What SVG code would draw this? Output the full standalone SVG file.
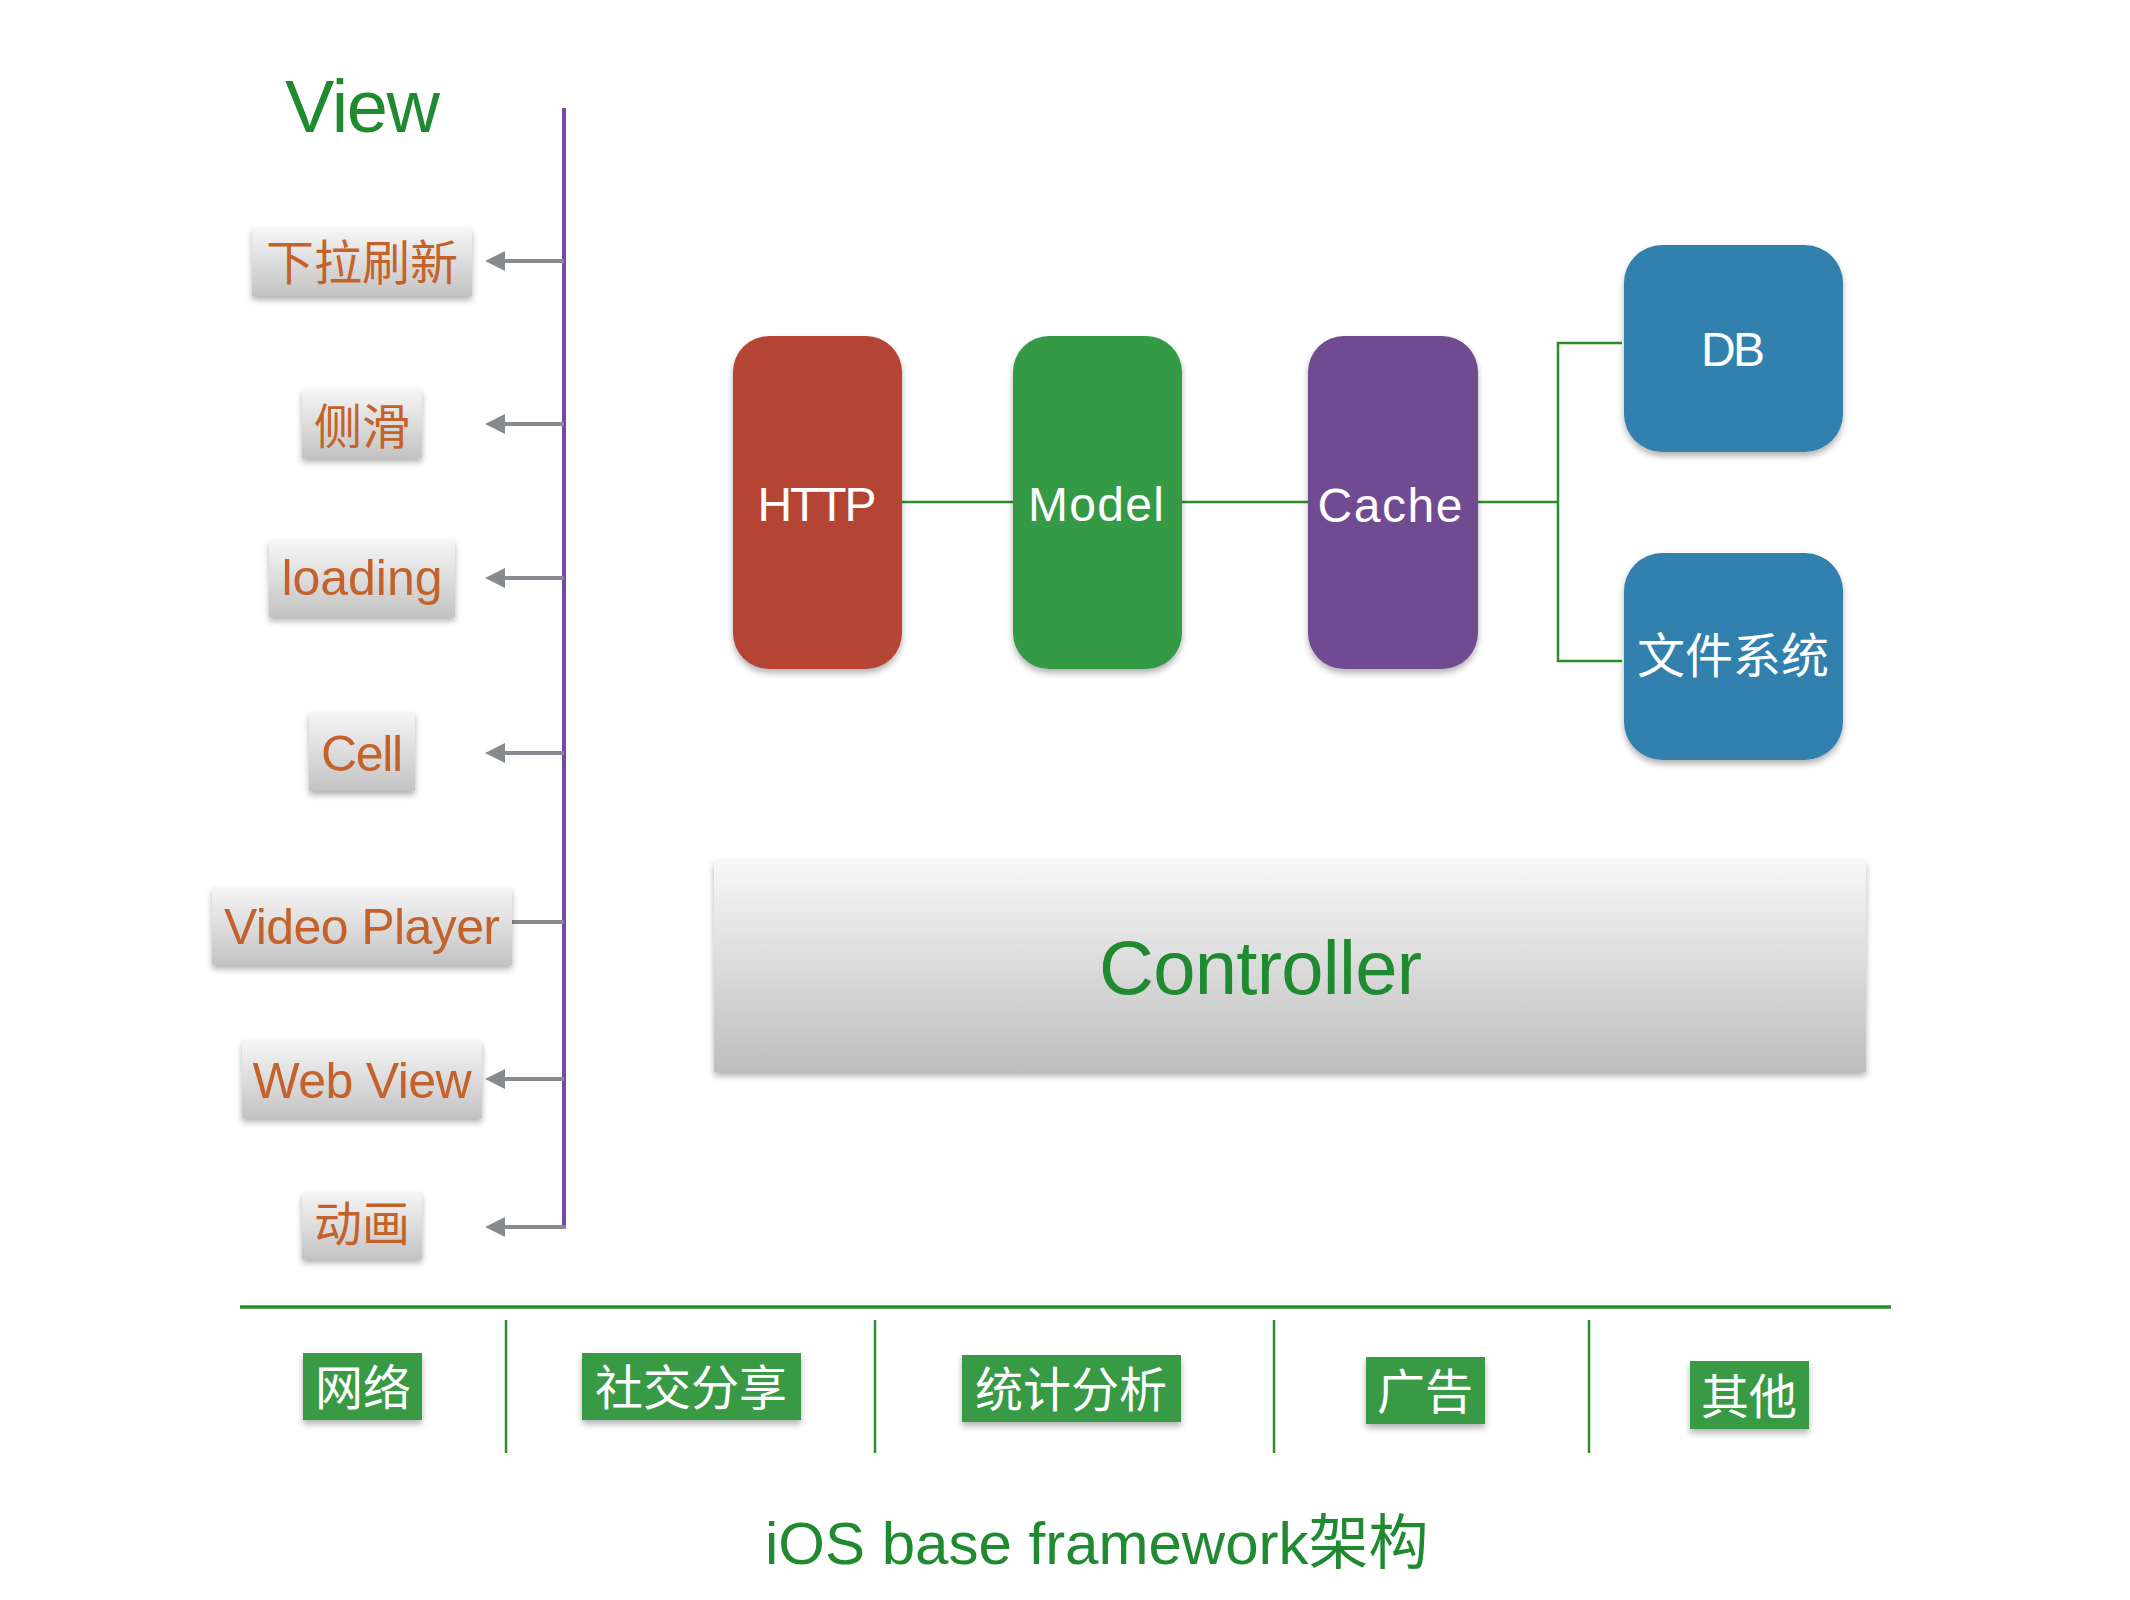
<svg xmlns="http://www.w3.org/2000/svg" width="2130" height="1600" viewBox="0 0 2130 1600">
<style>
.lbl{font-family:"Liberation Sans","Noto Sans CJK SC",sans-serif;}
.item{fill:#c4622b;font-size:50px;text-anchor:middle;}
.itemcjk{fill:#c4622b;font-size:48px;text-anchor:middle;}
.white{fill:#ffffff;font-size:48px;text-anchor:middle;}
.green{fill:#1f8a2f;}
.tagtxt{fill:#ffffff;font-size:48px;text-anchor:middle;}
.ibox{fill:url(#gItem);filter:url(#sh);}
.tag{fill:#379a45;filter:url(#sh);}
.arrow{stroke:#878b90;stroke-width:4;fill:none;}
.gl{stroke:#2a8f2a;stroke-width:2.5;fill:none;}
</style>
<defs>
<linearGradient id="gItem" x1="0" y1="0" x2="0" y2="1">
<stop offset="0" stop-color="#f6f6f6"/>
<stop offset="1" stop-color="#c3c3c3"/>
</linearGradient>
<linearGradient id="gCtrl" x1="0" y1="0" x2="0" y2="1">
<stop offset="0" stop-color="#f8f8f8"/>
<stop offset="1" stop-color="#bebebe"/>
</linearGradient>
<filter id="sh" x="-10%" y="-10%" width="120%" height="130%">
<feDropShadow dx="0" dy="4" stdDeviation="3" flood-color="#000" flood-opacity="0.3"/>
</filter>
<marker id="ah" viewBox="0 0 20 20" refX="5" refY="10" markerWidth="20" markerHeight="20" markerUnits="userSpaceOnUse" orient="auto">
<path d="M0,0 L20,10 L0,20 Z" fill="#878b90"/>
</marker>
</defs>
<rect width="2130" height="1600" fill="#ffffff"/>

<text class="lbl green" x="285" y="132" font-size="74" textLength="155">View</text>

<g id="connectors">
<line x1="564" y1="108" x2="564" y2="1229" stroke="#7a48a0" stroke-width="4"/>
<line class="arrow" x1="564" y1="261" x2="500" y2="261" marker-end="url(#ah)"/>
<line class="arrow" x1="564" y1="424" x2="500" y2="424" marker-end="url(#ah)"/>
<line class="arrow" x1="564" y1="578" x2="500" y2="578" marker-end="url(#ah)"/>
<line class="arrow" x1="564" y1="753" x2="500" y2="753" marker-end="url(#ah)"/>
<line class="arrow" x1="564" y1="922" x2="512" y2="922"/>
<line class="arrow" x1="564" y1="1079" x2="500" y2="1079" marker-end="url(#ah)"/>
<line class="arrow" x1="566" y1="1227" x2="500" y2="1227" marker-end="url(#ah)"/>
<line class="gl" x1="902" y1="502" x2="1013" y2="502"/>
<line class="gl" x1="1182" y1="502" x2="1308" y2="502"/>
<line class="gl" x1="1478" y1="502" x2="1558" y2="502"/>
<polyline class="gl" points="1622,343 1558,343 1558,661 1622,661"/>
<line x1="240" y1="1307" x2="1891" y2="1307" stroke="#2a8f2a" stroke-width="3.5"/>
<line class="gl" x1="506" y1="1320" x2="506" y2="1453"/>
<line class="gl" x1="875" y1="1320" x2="875" y2="1453"/>
<line class="gl" x1="1274" y1="1320" x2="1274" y2="1453"/>
<line class="gl" x1="1589" y1="1320" x2="1589" y2="1453"/>
</g>

<g id="pull-refresh">
<rect class="ibox" x="252" y="228" width="220" height="68"/>
<text class="lbl itemcjk" x="362" y="280">下拉刷新</text>
</g>
<g id="side-slide">
<rect class="ibox" x="302" y="389" width="120" height="69"/>
<text class="lbl itemcjk" x="362" y="444">侧滑</text>
</g>
<g id="loading">
<rect class="ibox" x="269" y="540" width="186" height="77"/>
<text class="lbl item" x="362" y="595" font-size="48" textLength="161">loading</text>
</g>
<g id="cell">
<rect class="ibox" x="309" y="712" width="106" height="79"/>
<text class="lbl item" x="362" y="771" font-size="52" textLength="82">Cell</text>
</g>
<g id="video-player">
<rect class="ibox" x="212" y="887" width="300" height="78"/>
<text class="lbl item" x="362" y="944" textLength="276">Video Player</text>
</g>
<g id="web-view">
<rect class="ibox" x="242" y="1040" width="240" height="78"/>
<text class="lbl item" x="362" y="1098" textLength="219">Web View</text>
</g>
<g id="animation">
<rect class="ibox" x="302" y="1192" width="120" height="67"/>
<text class="lbl itemcjk" x="362" y="1241">动画</text>
</g>

<g id="http">
<rect x="733" y="336" width="169" height="333" rx="36" fill="#b44534" filter="url(#sh)"/>
<text class="lbl white" x="817" y="521" textLength="119">HTTP</text>
</g>
<g id="model">
<rect x="1013" y="336" width="169" height="333" rx="36" fill="#349a45" filter="url(#sh)"/>
<text class="lbl white" x="1096" y="521" textLength="136">Model</text>
</g>
<g id="cache">
<rect x="1308" y="336" width="170" height="333" rx="36" fill="#6f4b92" filter="url(#sh)"/>
<text class="lbl white" x="1390" y="522" textLength="145">Cache</text>
</g>
<g id="db">
<rect x="1624" y="245" width="219" height="207" rx="38" fill="#3380ae" filter="url(#sh)"/>
<text class="lbl white" x="1733" y="366" font-size="50" textLength="64">DB</text>
</g>
<g id="filesystem">
<rect x="1624" y="553" width="219" height="207" rx="38" fill="#3380ae" filter="url(#sh)"/>
<text class="lbl white" x="1733" y="673" font-size="49">文件系统</text>
</g>

<g id="controller">
<rect x="714" y="860" width="1152" height="212" fill="url(#gCtrl)" filter="url(#sh)"/>
<text class="lbl green" x="1099" y="994" font-size="76" textLength="323">Controller</text>
</g>

<g id="network">
<rect class="tag" x="303" y="1353" width="119" height="67"/>
<text class="lbl tagtxt" x="363" y="1405">网络</text>
</g>
<g id="social-share">
<rect class="tag" x="582" y="1353" width="219" height="67"/>
<text class="lbl tagtxt" x="691" y="1405">社交分享</text>
</g>
<g id="statistics">
<rect class="tag" x="962" y="1355" width="219" height="67"/>
<text class="lbl tagtxt" x="1071" y="1407">统计分析</text>
</g>
<g id="ads">
<rect class="tag" x="1366" y="1357" width="119" height="67"/>
<text class="lbl tagtxt" x="1425" y="1409">广告</text>
</g>
<g id="others">
<rect class="tag" x="1690" y="1361" width="119" height="68"/>
<text class="lbl tagtxt" x="1749" y="1414">其他</text>
</g>

<text class="lbl green" x="765" y="1564" font-size="60">iOS base framework架构</text>
</svg>
